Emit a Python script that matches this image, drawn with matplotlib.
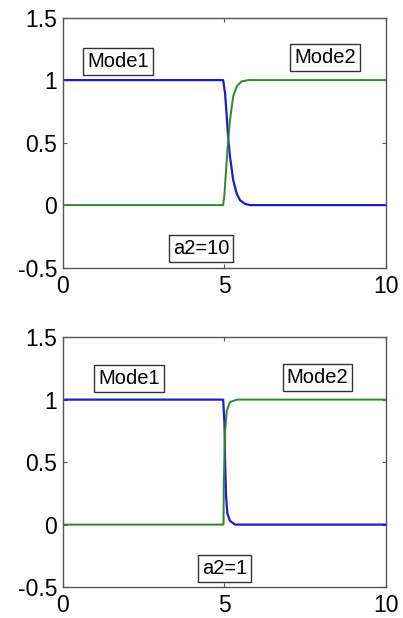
import matplotlib
matplotlib.use("Agg")
import matplotlib.pyplot as plt

plt.rcParams['font.family'] = ['Liberation Sans', 'DejaVu Sans']

# Top panel (a2=10)
top_mode1_x = [0, 4.96, 5.02, 5.07, 5.12, 5.17, 5.27, 5.38, 5.48, 5.63, 5.80, 10]
top_mode1_y = [1, 1.0, 0.89, 0.71, 0.52, 0.39, 0.20, 0.09, 0.04, 0.01, 0.0, 0]
top_mode2_x = [0, 4.96, 5.00, 5.05, 5.10, 5.17, 5.27, 5.38, 5.53, 5.74, 10]
top_mode2_y = [0, 0.0, 0.09, 0.28, 0.47, 0.68, 0.87, 0.95, 0.99, 1.0, 1]

# Bottom panel (a2=1)
bot_mode1_x = [0, 4.96, 5.00, 5.02, 5.05, 5.09, 5.17, 5.33, 10]
bot_mode1_y = [1, 1.0, 0.81, 0.49, 0.22, 0.09, 0.03, 0.0, 0]
bot_mode2_x = [0, 4.97, 4.98, 5.02, 5.07, 5.17, 5.38, 10]
bot_mode2_y = [0, 0.0, 0.35, 0.75, 0.91, 0.98, 1.0, 1]

panel_labels = ["a2=10", "a2=1"]
text_positions = [
    {"Mode1": (1.70, 1.15), "Mode2": (8.11, 1.18), "a2": (4.27, -0.35)},
    {"Mode1": (2.04, 1.17), "Mode2": (7.88, 1.18), "a2": (5.00, -0.35)},
]

xticks = [0, 5, 10]
yticks = [-0.5, 0, 0.5, 1, 1.5]
ytick_labels = ["-0.5", "0", "0.5", "1", "1.5"]

blue = '#1c1ccf'
green = '#2e862e'

fig = plt.figure(figsize=(4.03, 6.18), dpi=100)
axes = [fig.add_axes([0.156, 0.567, 0.802, 0.4045]),
        fig.add_axes([0.156, 0.050, 0.802, 0.4045])]

series = [(top_mode1_x, top_mode1_y, top_mode2_x, top_mode2_y),
          (bot_mode1_x, bot_mode1_y, bot_mode2_x, bot_mode2_y)]

for ax, (m1x, m1y, m2x, m2y), lab, pos in zip(axes, series, panel_labels, text_positions):
    ax.plot(m1x, m1y, color=blue, lw=1.6)
    ax.plot(m2x, m2y, color=green, lw=1.4)
    ax.set_xlim(0, 10)
    ax.set_ylim(-0.5, 1.5)
    ax.set_xticks(xticks)
    ax.set_xticklabels([str(t) for t in xticks])
    ax.set_yticks(yticks)
    ax.set_yticklabels(ytick_labels)
    ax.tick_params(direction='in', top=True, right=True, labelsize=16.5,
                   length=3, width=0.8, color='#555555')
    ax.tick_params(axis='x', pad=5)
    ax.tick_params(axis='y', pad=4)
    for s in ax.spines.values():
        s.set_color('#555555')
        s.set_linewidth(1.0)
    bbox = dict(boxstyle='square,pad=0.2', fc='white', ec='#333333', lw=1.0)
    ax.text(*pos["Mode1"], "Mode1", ha='center', va='center', fontsize=14.5, bbox=bbox)
    ax.text(*pos["Mode2"], "Mode2", ha='center', va='center', fontsize=14.5, bbox=bbox)
    ax.text(*pos["a2"], lab, ha='center', va='center', fontsize=14.5, bbox=bbox)

fig.savefig("out.png", dpi=100)
